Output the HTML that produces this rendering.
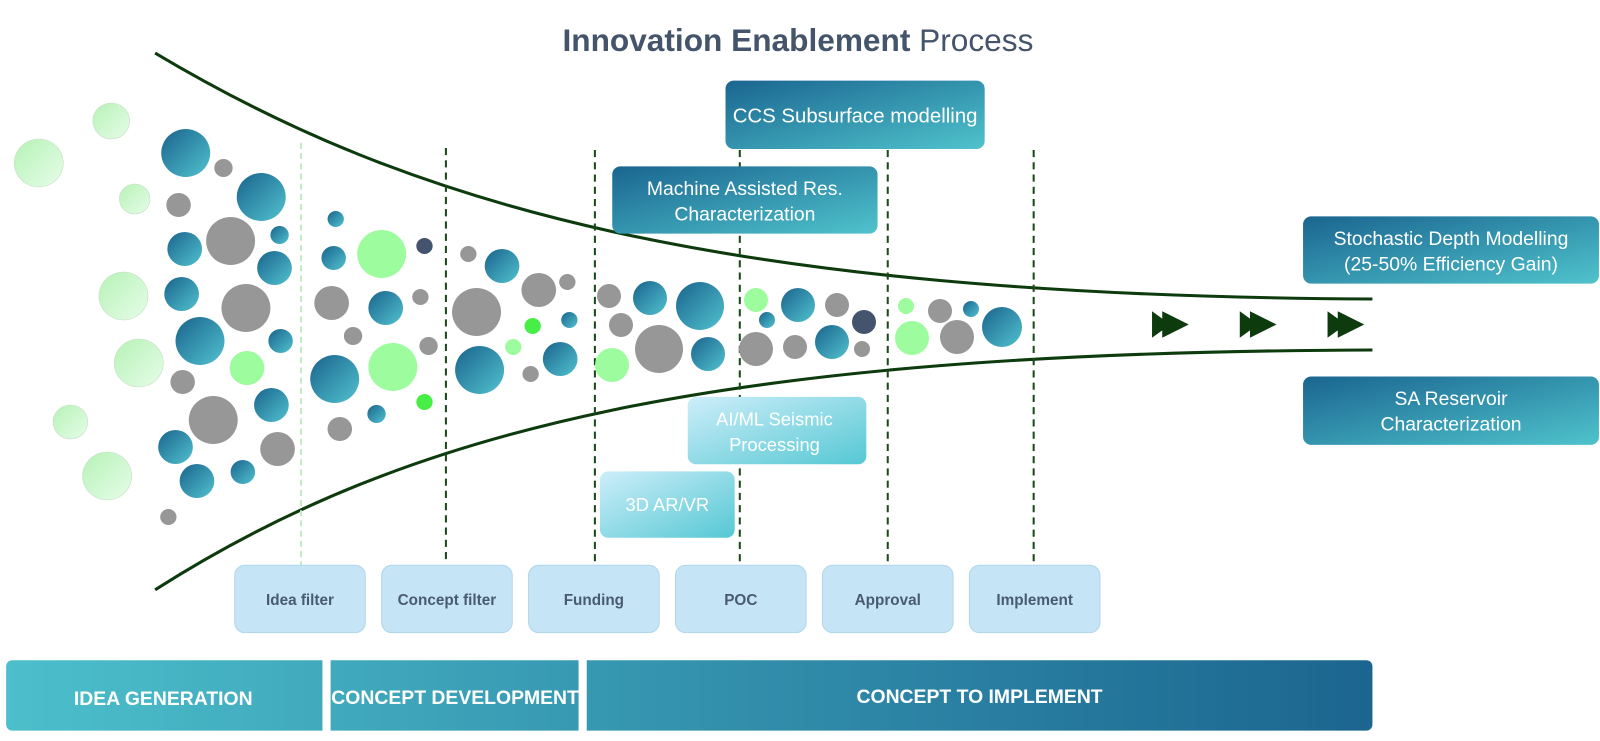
<!DOCTYPE html>
<html><head><meta charset="utf-8"><style>
html,body{margin:0;padding:0;background:#fff;}
svg{display:block;}
text{font-family:"Liberation Sans",sans-serif;}
</style></head><body>
<svg width="1600" height="741" viewBox="0 0 1600 741" xmlns="http://www.w3.org/2000/svg">
<defs>
<linearGradient id="tl" x1="0" y1="0" x2="1" y2="1"><stop offset="0" stop-color="#19638c"/><stop offset="1" stop-color="#52c2cf"/></linearGradient>
<linearGradient id="pg" x1="0" y1="0" x2="1" y2="1"><stop offset="0" stop-color="#b6f2b6"/><stop offset="1" stop-color="#e6fde8"/></linearGradient>
<linearGradient id="bx" x1="0" y1="0" x2="1" y2="1"><stop offset="0" stop-color="#1a6590"/><stop offset="1" stop-color="#4fc3cc"/></linearGradient>
<linearGradient id="lbx" x1="0" y1="0" x2="1" y2="1"><stop offset="0" stop-color="#cdeefa"/><stop offset="1" stop-color="#55c8d3"/></linearGradient>
<linearGradient id="bar" x1="0" y1="0" x2="1" y2="0"><stop offset="0" stop-color="#4cbfcb"/><stop offset="1" stop-color="#1b6590"/></linearGradient>
</defs>

<g transform="scale(1.0204)">
<text x="782" y="50" text-anchor="middle" font-size="31" fill="#44546a"><tspan font-weight="bold">Innovation Enablement</tspan> Process</text>
<path d="M152,52 C400,200 700,290 1345,293" fill="none" stroke="#0d3b0d" stroke-width="3"/>
<path d="M152,578 C400,420 700,345 1345,343" fill="none" stroke="#0d3b0d" stroke-width="3"/>
<line x1="295" y1="140" x2="295" y2="555" stroke="#c4ecc4" stroke-width="2" stroke-dasharray="6,4"/>
<g stroke="#1a4a1a" stroke-width="2" stroke-dasharray="7,5">
<line x1="437" y1="145" x2="437" y2="553"/><line x1="583" y1="147" x2="583" y2="553"/>
<line x1="725" y1="147" x2="725" y2="553"/><line x1="870" y1="147" x2="870" y2="553"/>
<line x1="1013" y1="147" x2="1013" y2="553"/></g>
<g fill="#0d3b0d">
<path d="M1129,305 L1147,318 L1129,331Z M1139,305 L1165,318 L1139,331Z"/>
<path d="M1215,305 L1233,318 L1215,331Z M1225,305 L1251,318 L1225,331Z"/>
<path d="M1301,305 L1319,318 L1301,331Z M1311,305 L1337,318 L1311,331Z"/>
</g>
</g>

<g transform="scale(1.0204,1)">
<g fill="url(#pg)" stroke="#c8dcc8" stroke-width="0.6">
<circle cx="38" cy="163" r="24"/><circle cx="109" cy="121" r="18"/><circle cx="132" cy="199" r="15"/><circle cx="121" cy="296" r="24"/><circle cx="136" cy="363" r="24"/><circle cx="69" cy="422" r="17"/><circle cx="105" cy="476" r="24"/></g>
<g fill="url(#tl)">
<circle cx="182" cy="153" r="24"/><circle cx="256" cy="197" r="24"/><circle cx="181" cy="249" r="17"/><circle cx="274" cy="235" r="9"/><circle cx="269" cy="268" r="17"/><circle cx="178" cy="294" r="17"/><circle cx="196" cy="341" r="24"/><circle cx="275" cy="341" r="12"/><circle cx="266" cy="405" r="17"/><circle cx="172" cy="447" r="17"/><circle cx="193" cy="481" r="17"/><circle cx="238" cy="472" r="12"/>
<circle cx="329" cy="219" r="8"/><circle cx="327" cy="258" r="12"/><circle cx="378" cy="308" r="17"/><circle cx="328" cy="379" r="24"/><circle cx="369" cy="414" r="9"/>
<circle cx="492" cy="266" r="17"/><circle cx="558" cy="320" r="8"/><circle cx="470" cy="370" r="24"/><circle cx="549" cy="359" r="17"/></g>
<g fill="#979797">
<circle cx="219" cy="168" r="9"/><circle cx="175" cy="205" r="12"/><circle cx="226" cy="241" r="24"/><circle cx="241" cy="308" r="24"/><circle cx="179" cy="382" r="12"/><circle cx="209" cy="420" r="24"/><circle cx="272" cy="449" r="17"/><circle cx="165" cy="517" r="8"/>
<circle cx="325" cy="303" r="17"/><circle cx="412" cy="297" r="8"/><circle cx="346" cy="336" r="9"/><circle cx="420" cy="346" r="9"/><circle cx="333" cy="429" r="12"/>
<circle cx="459" cy="254" r="8"/><circle cx="528" cy="290" r="17"/><circle cx="556" cy="282" r="8"/><circle cx="467" cy="312" r="24"/><circle cx="520" cy="374" r="8"/></g>
<g fill="#9dfc9d"><circle cx="242" cy="368" r="17"/><circle cx="374" cy="254" r="24"/><circle cx="385" cy="367" r="24"/><circle cx="503" cy="347" r="8"/></g>
<g fill="#46ee46"><circle cx="416" cy="402" r="8"/><circle cx="522" cy="326" r="8"/></g>
<circle cx="416" cy="246" r="8" fill="#44536e"/>
</g>

<g fill="#979797">
<circle cx="609" cy="296" r="12"/><circle cx="621" cy="325" r="12"/><circle cx="659" cy="349" r="24"/><circle cx="837" cy="305" r="12"/><circle cx="756" cy="349" r="17"/><circle cx="795" cy="347" r="12"/><circle cx="862" cy="349" r="8"/><circle cx="940" cy="311" r="12"/><circle cx="957" cy="337" r="17"/></g>
<g fill="url(#tl)">
<circle cx="650" cy="298" r="17"/><circle cx="700" cy="306" r="24"/><circle cx="708" cy="354" r="17"/><circle cx="798" cy="305" r="17"/><circle cx="767" cy="320" r="8"/><circle cx="832" cy="342" r="17"/><circle cx="971" cy="309" r="8"/><circle cx="1002" cy="327" r="20"/></g>
<g fill="#9dfc9d"><circle cx="612" cy="365" r="17"/><circle cx="756" cy="300" r="12"/><circle cx="906" cy="306" r="8"/><circle cx="912" cy="338" r="17"/></g>
<circle cx="864" cy="322" r="12" fill="#44536e"/>

<g transform="scale(1.0204)">
<rect x="711" y="79" width="254" height="67" rx="8" fill="url(#bx)"/>
<text x="838" y="120" text-anchor="middle" font-size="20" fill="#fff">CCS Subsurface modelling</text>
<rect x="600" y="163" width="260" height="66" rx="8" fill="url(#bx)"/>
<text x="730" y="191" text-anchor="middle" font-size="19" fill="#fff">Machine Assisted Res.</text>
<text x="730" y="216" text-anchor="middle" font-size="19" fill="#fff">Characterization</text>
<rect x="1277" y="212" width="290" height="66" rx="8" fill="url(#bx)"/>
<text x="1422" y="240" text-anchor="middle" font-size="19" fill="#fff">Stochastic Depth Modelling</text>
<text x="1422" y="265" text-anchor="middle" font-size="19" fill="#fff">(25-50% Efficiency Gain)</text>
<rect x="1277" y="369" width="290" height="67" rx="8" fill="url(#bx)"/>
<text x="1422" y="397" text-anchor="middle" font-size="19" fill="#fff">SA Reservoir</text>
<text x="1422" y="422" text-anchor="middle" font-size="19" fill="#fff">Characterization</text>
<rect x="674" y="389" width="175" height="66" rx="8" fill="url(#lbx)"/>
<text x="759" y="417" text-anchor="middle" font-size="18" fill="#fff">AI/ML Seismic</text>
<text x="759" y="442" text-anchor="middle" font-size="18" fill="#fff">Processing</text>
<rect x="588" y="462" width="132" height="65" rx="8" fill="url(#lbx)"/>
<text x="654" y="501" text-anchor="middle" font-size="18" fill="#fff">3D AR/VR</text>

<g fill="#c5e5f6" stroke="#b0d6ea" stroke-width="1">
<rect x="230" y="554" width="128" height="66" rx="10"/><rect x="374" y="554" width="128" height="66" rx="10"/>
<rect x="518" y="554" width="128" height="66" rx="10"/><rect x="662" y="554" width="128" height="66" rx="10"/>
<rect x="806" y="554" width="128" height="66" rx="10"/><rect x="950" y="554" width="128" height="66" rx="10"/></g>
<g font-size="15" font-weight="bold" fill="#4a5a72" text-anchor="middle">
<text x="294" y="593">Idea filter</text><text x="438" y="593">Concept filter</text><text x="582" y="593">Funding</text>
<text x="726" y="593">POC</text><text x="870" y="593">Approval</text><text x="1014" y="593">Implement</text></g>

<rect x="6" y="647" width="1339" height="69" rx="6" fill="url(#bar)"/>
<rect x="316" y="641" width="8" height="85" rx="4" fill="#fff"/>
<rect x="567" y="641" width="8" height="85" rx="4" fill="#fff"/>
<g font-size="19" font-weight="bold" fill="#fff" text-anchor="middle">
<text x="160" y="691">IDEA GENERATION</text><text x="446" y="690">CONCEPT DEVELOPMENT</text><text x="960" y="689">CONCEPT TO IMPLEMENT</text></g>
</g>
</svg>
</body></html>
